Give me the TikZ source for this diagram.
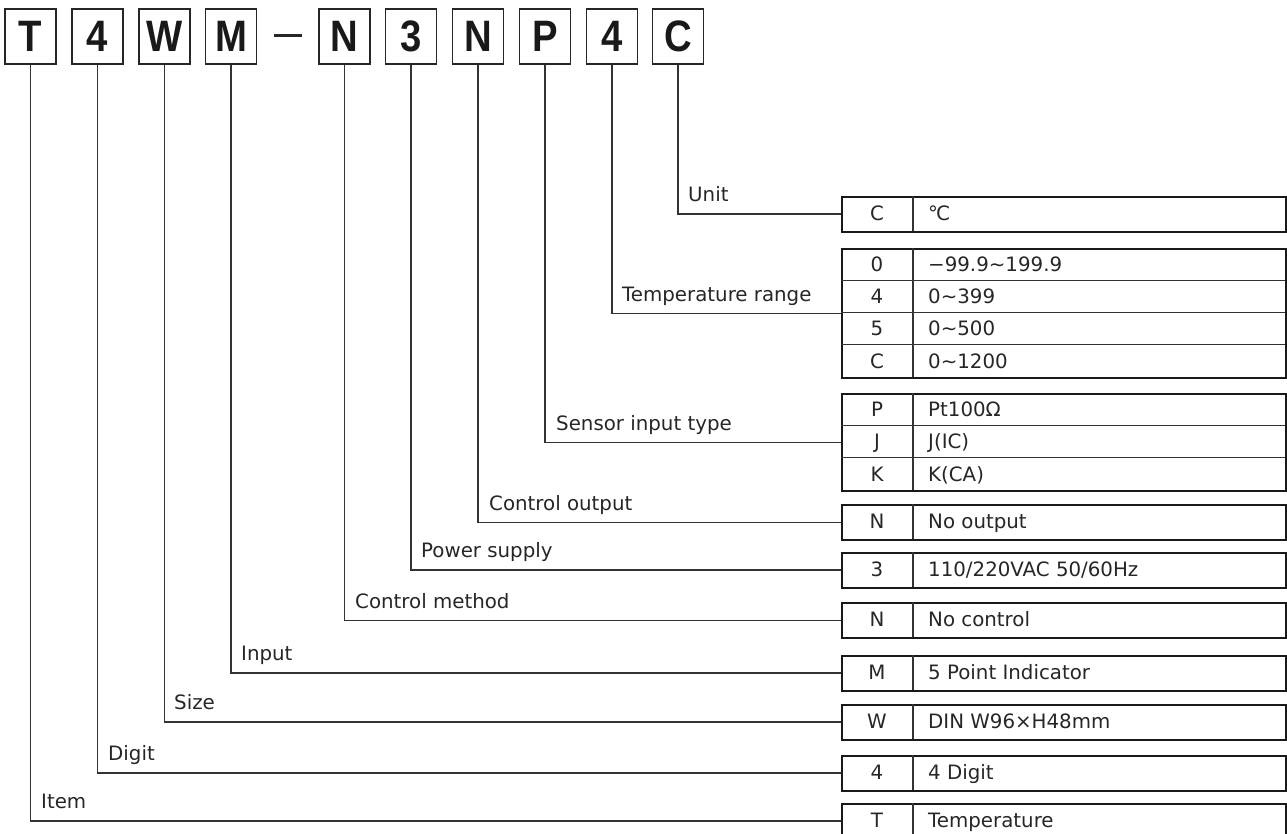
\documentclass[tikz,border=0pt]{standalone}
\usepackage{fontspec}
\usepackage{graphicx}
\setmainfont{DejaVu Sans}
\newfontfamily\boxfont{Liberation Sans}
\newcommand\cellpair[4]{%
  \node[codetxt] (#1c) at (877,{#2+7.2}) {#3};
  \node[valtxt] (#1v) at (928,{#2+7.2}) {#4};}
\begin{document}
\begin{tikzpicture}[x=1pt,y=-1pt,
  conn/.style={draw=black!80, line width=1.3pt},
  codebox/.style={draw=black!85, line width=1.6pt, minimum width=51pt, minimum height=55pt, inner sep=0pt, font=\boxfont\bfseries\fontsize{44}{44}\selectfont, text=black!90},
  tbl/.style={draw=black!90, line width=2pt, minimum width=444pt, inner sep=0pt, anchor=north west},
  inner/.style={draw=black!80, line width=1.1pt},
  lbl/.style={anchor=base west, inner sep=0pt, font=\fontsize{19.8}{24}\selectfont, text=black!85},
  codetxt/.style={anchor=base, inner sep=0pt, font=\fontsize{19.8}{24}\selectfont, text=black!85},
  valtxt/.style={anchor=base west, inner sep=0pt, font=\fontsize{19.8}{24}\selectfont, text=black!85}
]
\useasboundingbox (0,0) rectangle (1287,833);
\clip (0,0) rectangle (1287,833);

% top code boxes
\node[codebox] (bT)  at (30.5,36.5)  {\scalebox{0.87}[1]{T}};
\node[codebox] (b4a) at (97.5,36.5)  {\scalebox{0.87}[1]{4}};
\node[codebox] (bW)  at (164.5,36.5) {\scalebox{0.87}[1]{W}};
\node[codebox] (bM)  at (231,36.5)   {\scalebox{0.87}[1]{M}};
\draw[line width=2.2pt, black!85] (274,35.5) -- (302,35.5);
\node[codebox] (bNa) at (344.5,36.5) {\scalebox{0.87}[1]{N}};
\node[codebox] (b3)  at (411,36.5)   {\scalebox{0.87}[1]{3}};
\node[codebox] (bNb) at (478,36.5)   {\scalebox{0.87}[1]{N}};
\node[codebox] (bP)  at (545,36.5)   {\scalebox{0.87}[1]{P}};
\node[codebox] (b4b) at (612,36.5)   {\scalebox{0.87}[1]{4}};
\node[codebox] (bC)  at (678,36.5)   {\scalebox{0.87}[1]{C}};

% tables
\node[tbl, minimum height=35pt]  (tU) at (841,195.5) {};
\draw[inner] (tU.north west) ++(72,0) -- ++(0,35);
\cellpair{u1}{213}{C}{℃}

\node[tbl, minimum height=129pt] (tR) at (841,248) {};
\draw[inner] (tR.north west) ++(72,0) -- ++(0,129);
\draw[inner] (tR.north west) ++(0,32.25) -- ++(444,0);
\draw[inner] (tR.north west) ++(0,64.5) -- ++(444,0);
\draw[inner] (tR.north west) ++(0,96.75) -- ++(444,0);
\cellpair{r1}{264.1}{0}{−99.9\textasciitilde199.9}
\cellpair{r2}{296.4}{4}{0\textasciitilde399}
\cellpair{r3}{328.6}{5}{0\textasciitilde500}
\cellpair{r4}{360.9}{C}{0\textasciitilde1200}

\node[tbl, minimum height=97pt]  (tS) at (841,393) {};
\draw[inner] (tS.north west) ++(72,0) -- ++(0,97);
\draw[inner] (tS.north west) ++(0,32.33) -- ++(444,0);
\draw[inner] (tS.north west) ++(0,64.67) -- ++(444,0);
\cellpair{s1}{409.2}{P}{Pt100Ω}
\cellpair{s2}{441.5}{J}{J(IC)}
\cellpair{s3}{473.8}{K}{K(CA)}

\node[tbl, minimum height=35pt]  (tO) at (841,504) {};
\draw[inner] (tO.north west) ++(72,0) -- ++(0,35);
\cellpair{o1}{521.5}{N}{No output}

\node[tbl, minimum height=35pt]  (tP) at (841,551.5) {};
\draw[inner] (tP.north west) ++(72,0) -- ++(0,35);
\cellpair{p1}{569}{3}{110/220VAC 50/60Hz}

\node[tbl, minimum height=35pt]  (tN) at (841,602) {};
\draw[inner] (tN.north west) ++(72,0) -- ++(0,35);
\cellpair{n1}{619.5}{N}{No control}

\node[tbl, minimum height=35pt]  (tM) at (841,654.5) {};
\draw[inner] (tM.north west) ++(72,0) -- ++(0,35);
\cellpair{m1}{672}{M}{5 Point Indicator}

\node[tbl, minimum height=35pt]  (tW) at (841,703.5) {};
\draw[inner] (tW.north west) ++(72,0) -- ++(0,35);
\cellpair{w1}{721}{W}{DIN W96×H48mm}

\node[tbl, minimum height=35pt]  (tD) at (841,754.5) {};
\draw[inner] (tD.north west) ++(72,0) -- ++(0,35);
\cellpair{d1}{772}{4}{4 Digit}

\node[tbl, minimum height=35pt]  (tT) at (841,802.5) {};
\draw[inner] (tT.north west) ++(72,0) -- ++(0,35);
\cellpair{t1}{820}{T}{Temperature}

% connectors
\draw[conn] (bC.south)  |- (tU.west);
\draw[conn] (b4b.south) |- (tR.west);
\draw[conn] (bP.south)  |- (tS.west);
\draw[conn] (bNb.south) |- (tO.west);
\draw[conn] (b3.south)  |- (tP.west);
\draw[conn] (bNa.south) |- (tN.west);
\draw[conn] (bM.south)  |- (tM.west);
\draw[conn] (bW.south)  |- (tW.west);
\draw[conn] (b4a.south) |- (tD.west);
\draw[conn] (bT.south)  |- (tT.west);

% labels
\node[lbl] (lU) at (688,201.5)   {Unit};
\node[lbl] (lR) at (622,301.5)   {Temperature range};
\node[lbl] (lS) at (556,430)     {Sensor input type};
\node[lbl] (lO) at (489,510)     {Control output};
\node[lbl] (lP) at (421,557.5)   {Power supply};
\node[lbl] (lN) at (355,608)     {Control method};
\node[lbl] (lM) at (241,660.5)   {Input};
\node[lbl] (lW) at (174,709.5)   {Size};
\node[lbl] (lD) at (108,760.5)   {Digit};
\node[lbl] (lT) at (41,808.5)    {Item};
\end{tikzpicture}
\end{document}
